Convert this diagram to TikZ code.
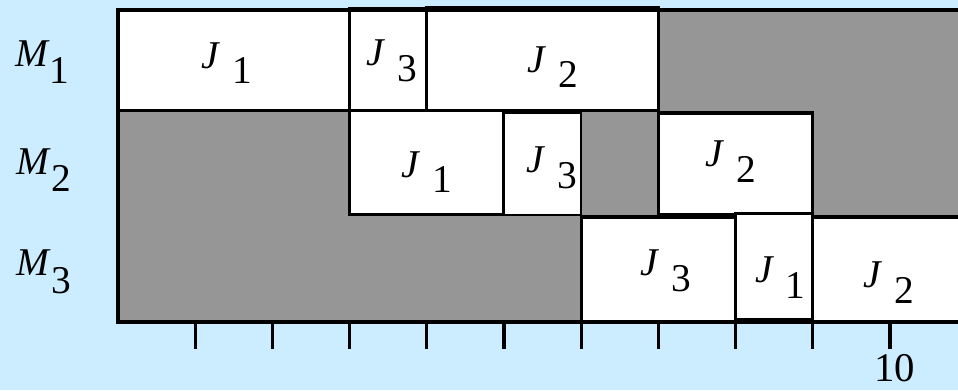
\documentclass[tikz,border=0pt]{standalone}
\usepackage{fontspec}
\setmainfont{Liberation Serif}
\definecolor{bgblue}{RGB}{204,236,255}
\definecolor{idlegray}{RGB}{150,150,150}
\newcommand{\jlab}[1]{\textit{J}\hspace{0.3em}\raisebox{-0.4em}{#1}}
\newcommand{\mlab}[1]{\textit{M}\raisebox{-0.45em}{#1}}
\begin{document}
\begin{tikzpicture}[x=1.93cm,y=2.6cm,every node/.style={font=\fontsize{28}{32}\selectfont,inner sep=0pt},
  jobbox/.style={draw,fill=white,line width=2.3pt},
  frameline/.style={line width=2.4pt},
  tickmark/.style={line width=2.2pt}]
  \fill[bgblue] (-1.5285,-0.654) rectangle (10.881,3.096);
  \useasboundingbox (-1.5285,-0.654) rectangle (10.881,3.096);
  % idle time
  \fill[idlegray] (0,0) rectangle (11,3);
  % machine M1
  \draw[jobbox] (0,2.03) rectangle (3,3);
  \draw[jobbox,line width=1.6pt] (3,2.03) rectangle (4,3.02);
  \draw[jobbox] (4,2.03) rectangle (7,3.02);
  % machine M2
  \draw[jobbox] (3,1.03) rectangle (5,2.03);
  \draw[jobbox,line width=1.6pt] (5,1.03) rectangle (6,2.01);
  \draw[jobbox] (7,1.03) rectangle (9,2.01);
  % machine M3
  \draw[jobbox] (6,0) rectangle (8,1.01);
  \draw[jobbox] (8,0.02) rectangle (9,1.04);
  \draw[jobbox] (9,0) rectangle (11,1.01);
  % job labels
  \node (m1j1) at (1.41,2.49) {\jlab{1}};
  \node (m1j3) at (3.55,2.51) {\jlab{3}};
  \node (m1j2) at (5.63,2.45) {\jlab{2}};
  \node (m2j1) at (4.00,1.44) {\jlab{1}};
  \node (m2j3) at (5.62,1.48) {\jlab{3}};
  \node (m2j2) at (7.94,1.54) {\jlab{2}};
  \node (m3j3) at (7.10,0.49) {\jlab{3}};
  \node (m3j1) at (8.58,0.43) {\jlab{1}};
  \node (m3j2) at (9.99,0.38) {\jlab{2}};
  % machine labels
  \node (m1) at (-0.98,2.50) {\mlab{1}};
  \node (m2) at (-0.96,1.46) {\mlab{2}};
  \node (m3) at (-0.96,0.48) {\mlab{3}};
  % frame and time axis
  \draw[frameline] (11,3) -- (0,3) -- (0,0);
  \draw[line width=3pt] (-0.02,0) -- (11,0);
  \foreach \t in {1,...,10}
    \draw[tickmark] (\t,0) -- (\t,-0.26);
  \node[font=\fontsize{29}{33}\selectfont] (ten) at (10.06,-0.44) {10};
\end{tikzpicture}
\end{document}
